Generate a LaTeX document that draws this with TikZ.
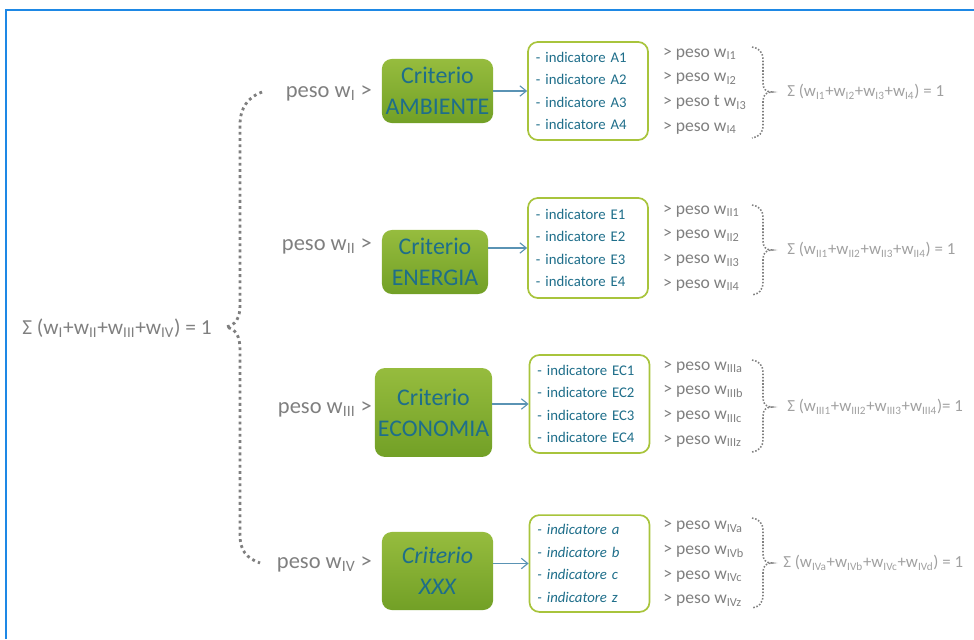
\documentclass[tikz,border=0pt]{standalone}
\usepackage{fontspec}
\setmainfont{Carlito}
\usetikzlibrary{arrows.meta, positioning}
\definecolor{grigio}{HTML}{7F7F7F}
\definecolor{grigioChiaro}{HTML}{A0A0A0}
\definecolor{verdeTop}{HTML}{96BC3E}
\definecolor{verdeBot}{HTML}{72A026}
\definecolor{verdeBordo}{HTML}{A8C43C}
\definecolor{testoBlu}{HTML}{1E6E8A}
\definecolor{frecciaBlu}{HTML}{5A93B4}
\definecolor{cornice}{HTML}{1E88E5}
\newcommand{\wi}[1]{w\textsubscript{#1}}
% graffa punteggiata a destra: y alto, y punta, y basso
\newcommand{\graffa}[3]{\draw[puntini] (752,#1) .. controls (759,#1+1) and (763,#1+5) .. (763,#1+13)
    -- (763,#2-9) .. controls (763,#2-3) and (766,#2) .. (772,#2)
    .. controls (766,#2) and (763,#2+3) .. (763,#2+9)
    -- (763,#3-13) .. controls (763,#3-5) and (759,#3-1) .. (752,#3);}

\begin{document}
\begin{tikzpicture}[x=0.025cm, y=-0.025cm,
    crit/.style={rounded corners=7pt, top color=verdeTop, bottom color=verdeBot,
                 align=center, text=testoBlu, inner sep=1pt,
                 font=\fontsize{17}{22}\selectfont},
    ind/.style={draw=verdeBordo, line width=1.2pt, rounded corners=7pt, fill=white,
                align=left, text width=2.6cm, inner xsep=0.2cm, text=testoBlu,
                font=\fontsize{10.5}{16}\selectfont},
    pesi/.style={align=left, text=grigio, inner sep=0pt,
                 font=\fontsize{12.5}{17.6}\selectfont},
    peso/.style={text=grigio, inner sep=0pt, font=\fontsize{16}{19}\selectfont},
    somma/.style={text=grigioChiaro, inner sep=0pt, anchor=west,
                  font=\fontsize{12}{15}\selectfont},
    fl/.style={-{Straight Barb[length=1.6mm, width=2.6mm]}, line width=0.8pt, color=frecciaBlu},
    punti/.style={draw=grigio, line width=2pt, dash pattern=on 2pt off 2.4pt},
    puntini/.style={draw=grigio, line width=1.1pt, dash pattern=on 1.1pt off 1.2pt}]
    \useasboundingbox (0,0) rectangle (974,639);
    \draw[cornice, line width=0.05cm] (6,639) -- (6,10) -- (974,10);

    % totale a sinistra
    \node[peso, anchor=west, font=\fontsize{15.2}{19}\selectfont] (tot) at (22,328)
        {Σ (\wi{I}+\wi{II}+\wi{III}+\wi{IV}) = 1};
    \draw[punti] (262,92) .. controls (248,97) and (240,108) .. (240,125) -- (240,305)
        .. controls (240,318) and (236,325) .. (226,327)
        .. controls (236,329) and (240,336) .. (240,350) -- (240,535)
        .. controls (240,550) and (246,558) .. (260,563);

    \node[peso, anchor=east] (pI)   at (372,93)  {peso \wi{I} >};
    \node[peso, anchor=east] (pII)  at (372,246) {peso \wi{II} >};
    \node[peso, anchor=east] (pIII) at (372,409) {peso \wi{III} >};
    \node[peso, anchor=east] (pIV)  at (372,564) {peso \wi{IV} >};

    % criteri
    \node[crit, minimum width=2.78cm, minimum height=1.6cm]  (cA)  at (437.5,91)   {Criterio\\AMBIENTE};
    \node[crit, minimum width=2.65cm, minimum height=1.6cm]  (cE)  at (435,262)    {Criterio\\ENERGIA};
    \node[crit, minimum width=2.93cm, minimum height=2.22cm] (cEC) at (433.5,412.5) {Criterio\\ECONOMIA};
    \node[crit, minimum width=2.78cm, minimum height=1.95cm, font=\fontsize{17}{22}\selectfont\itshape]
        (cX) at (437.5,571) {Criterio\\XXX};

    % indicatori
    \node[ind, minimum height=2.45cm] (iA)  at (588,91)    {- indicatore A1\\- indicatore A2\\- indicatore A3\\- indicatore A4};
    \node[ind, minimum height=2.5cm]  (iE)  at (588,248)   {- indicatore E1\\- indicatore E2\\- indicatore E3\\- indicatore E4};
    \node[ind, minimum height=2.45cm] (iEC) at (589.5,404) {- indicatore EC1\\- indicatore EC2\\- indicatore EC3\\- indicatore EC4};
    \node[ind, minimum height=2.42cm, font=\fontsize{10.5}{16}\selectfont\itshape]
        (iX) at (589.5,563.5) {- indicatore a\\- indicatore b\\- indicatore c\\- indicatore z};

    \draw[fl] (cA.east |- iA.west) -- (iA.west);
    \draw[fl] (cE.east |- iE.west) -- (iE.west);
    \draw[fl] (cEC.east |- iEC.west) -- (iEC.west);
    \draw[fl] (cX.east |- iX.west) -- (iX.west);

    % pesi degli indicatori
    \node[pesi, right=0.35cm of iA]  (wA)  {> peso \wi{I1}\\> peso \wi{I2}\\> peso t \wi{I3}\\> peso \wi{I4}};
    \node[pesi, right=0.35cm of iE]  (wE)  {> peso \wi{II1}\\> peso \wi{II2}\\> peso \wi{II3}\\> peso \wi{II4}};
    \node[pesi, right=0.32cm of iEC] (wEC) {> peso \wi{IIIa}\\> peso \wi{IIIb}\\> peso \wi{IIIc}\\> peso \wi{IIIz}};
    \node[pesi, right=0.32cm of iX]  (wX)  {> peso \wi{IVa}\\> peso \wi{IVb}\\> peso \wi{IVc}\\> peso \wi{IVz}};

    \graffa{47}{92}{138}
    \graffa{205}{250}{295}
    \graffa{360}{407}{452}
    \graffa{518}{563}{608}

    \node[somma] (sA)  at (787,92)  {Σ (\wi{I1}+\wi{I2}+\wi{I3}+\wi{I4}) = 1};
    \node[somma] (sE)  at (787,250) {Σ (\wi{II1}+\wi{II2}+\wi{II3}+\wi{II4}) = 1};
    \node[somma] (sEC) at (787,407) {Σ (\wi{III1}+\wi{III2}+\wi{III3}+\wi{III4})= 1};
    \node[somma] (sX)  at (783,563) {Σ (\wi{IVa}+\wi{IVb}+\wi{IVc}+\wi{IVd}) = 1};
  \end{tikzpicture}
\end{document}
